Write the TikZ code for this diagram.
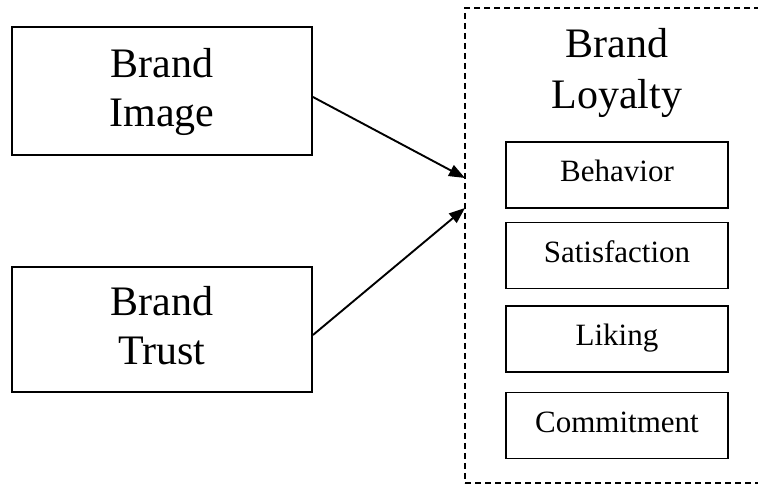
\documentclass[tikz,border=0pt]{standalone}
\usepackage{fontspec}
\setmainfont{Liberation Serif}
\usetikzlibrary{arrows.meta}
\begin{document}
\begin{tikzpicture}[x=1pt,y=1pt,
  bigbox/.style={draw, line width=1.9pt, minimum width=300pt, inner sep=0pt},
  bigtxt/.style={align=center, inner sep=0pt, font=\fontsize{42}{49}\selectfont},
  smallbox/.style={draw, line width=1.9pt, minimum width=222pt, minimum height=66pt, inner sep=0pt,
    font=\fontsize{31}{36}\selectfont, text height=20pt, text depth=6pt},
  groupbox/.style={draw, line width=1.5pt, dash pattern=on 6pt off 4pt, inner sep=0pt},
  arrowline/.style={line width=1.9pt, -{Triangle[length=16pt,width=12pt]}}
]
\useasboundingbox (0,0) rectangle (758,485);
\clip (0,0) rectangle (758,485);
% left boxes
\node[bigbox, minimum height=128pt] (image) at (162,394) {};
\node[bigtxt] (imagetext) at (162,393.3) {Brand\\Image};
\node[bigbox, minimum height=125pt] (trust) at (162,155.5) {};
\node[bigtxt] (trusttext) at (162,159.8) {Brand\\Trust};
% group
\node[groupbox, minimum width=310pt, minimum height=475pt] (loyalty) at (620,239.5) {};
\node[bigtxt, font=\fontsize{42}{51}\selectfont] (loyaltytext) at (617,412.3) {Brand\\Loyalty};
\node[smallbox] (behavior) at (617,310) {Behavior};
\node[smallbox] (satisfaction) at (617,229.5) {Satisfaction};
\node[smallbox] (liking) at (617,146) {Liking};
\node[smallbox] (commitment) at (617,59.5) {Commitment};
% arrows
\coordinate (in1) at (465,307);
\coordinate (in2) at (465,277);
\draw[arrowline] ([yshift=-6pt]image.east) -- (in1);
\draw[arrowline] ([yshift=-5.5pt]trust.east) -- (in2);
\end{tikzpicture}
\end{document}
